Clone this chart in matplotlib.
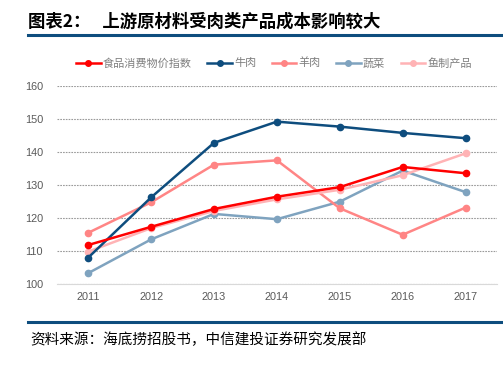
import matplotlib
matplotlib.use("Agg")
import matplotlib.pyplot as plt
from matplotlib.lines import Line2D

plt.rcParams['font.family'] = ['Noto Sans CJK SC', 'DejaVu Sans']

years = ['2011', '2012', '2013', '2014', '2015', '2016', '2017']
food_cpi = [111.8, 117.3, 122.7, 126.4, 129.3, 135.4, 133.5]
beef = [108.0, 126.2, 142.7, 149.1, 147.6, 145.7, 144.1]
mutton = [115.5, 124.7, 136.1, 137.4, 122.9, 114.9, 123.1]
veg = [103.3, 113.5, 121.2, 119.6, 124.9, 134.3, 127.8]
fish = [109.8, 116.9, 122.1, 125.6, 128.5, 132.9, 139.5]

names = ['食品消费物价指数', '牛肉', '羊肉', '蔬菜', '鱼制产品']
series = [food_cpi, beef, mutton, veg, fish]
colors = ['#FF0000', '#0E4D7E', '#FF8585', '#7FA3BF', '#FFB3B5']
order = [3, 2, 4, 0, 1]  # drawing order

fig = plt.figure(figsize=(5.03, 3.74), dpi=100)
ax = fig.add_axes([0.113, 0.2406, 0.875, 0.5305])

x = range(len(years))
for i in order:
    ax.plot(x, series[i], color=colors[i], lw=1.8, marker='o', ms=4.5,
            solid_capstyle='round', zorder=3 + (i == 0))

ax.set_xlim(-0.5, 6.5)
ax.set_ylim(100, 160)
ax.set_yticks(range(100, 161, 10))
ax.set_xticks(list(x))
ax.set_xticklabels(years)
ax.grid(axis='y', color='#9A9A9A', ls=(0, (1.5, 1)), lw=0.8, zorder=0)
for s in ['top', 'right', 'left']:
    ax.spines[s].set_visible(False)
ax.spines['bottom'].set_color('#D9D9D9')
ax.tick_params(length=0, labelsize=7.8, labelcolor='#595959', pad=6)
ax.tick_params(axis='y', pad=10)
for lab in ax.get_xticklabels() + ax.get_yticklabels():
    lab.set_family(['Liberation Sans', 'DejaVu Sans'])

handles = [Line2D([], [], color=c, lw=1.8, marker='o', ms=4) for c in colors]
leg = fig.legend(handles, names, loc='center', ncol=5, frameon=False,
                 bbox_to_anchor=(274 / 503, 1 - 63 / 374), fontsize=8,
                 handlelength=2.2, handletextpad=0.2, columnspacing=1.4)
for t in leg.get_texts():
    t.set_color('#7F7F7F')

fig.text(28 / 503, 1 - 22 / 374, '图表2：   上游原材料受肉类产品成本影响较大',
         fontsize=12.5, fontweight='bold', va='center', ha='left')
fig.add_artist(Line2D([28 / 503, 1], [1 - 35 / 374] * 2, color='#0E4D7E', lw=2.2))
fig.add_artist(Line2D([28 / 503, 1], [1 - 322 / 374] * 2, color='#0E4D7E', lw=2.2))
fig.text(30 / 503, 1 - 340 / 374, '资料来源：海底捞招股书，中信建投证券研究发展部',
         fontsize=10.5, style='italic', va='center', ha='left')

fig.savefig('out.png', dpi=100)
